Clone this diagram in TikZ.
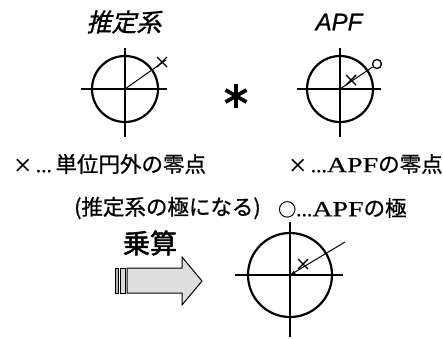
\documentclass[tikz,border=0pt]{standalone}
\usepackage{fontspec}
\usepackage{graphicx}
\newfontfamily\jp[FakeBold=0.8]{Noto Sans CJK JP}
\newfontfamily\jpsl[FakeSlant=0.22,FakeBold=1]{Noto Sans CJK JP}
\newfontfamily\jpb[FakeBold=1.8]{Noto Sans CJK JP}
\newfontfamily\lsans[ItalicFeatures={FakeBold=0.7}]{Liberation Sans}
\newfontfamily\lserif[FakeBold=0.6]{Liberation Serif}
\usetikzlibrary{arrows.meta}
\tikzset{
  circ/.style={line width=2.2pt},
  axis/.style={line width=2.2pt},
  ray/.style={line width=1pt},
  txt/.style={inner sep=0pt, anchor=west, font=\jp\fontsize{21.5}{24}\selectfont},
  xm/.pic={\draw[line width=1.4pt] (-5,-5)--(5,5) (-5,5)--(5,-5);}
}
\begin{document}
\begin{tikzpicture}[x=1pt,y=-1pt]
\useasboundingbox (0,0) rectangle (443,338);
% titles
\node[inner sep=0pt] (title1) at (124,22) {\jpsl\fontsize{25}{30}\selectfont 推定系};
\node[inner sep=0pt] (title2) at (339,22) {\lsans\itshape\fontsize{24}{28}\selectfont APF};
% left plane
\coordinate (c1) at (125,89);
\draw[circ] (c1) circle (33);
\draw[axis] (81,89) -- (167,89);
\draw[axis] (125,48) -- (125,137);
\coordinate (e1) at (166,60);
\draw[ray] (c1) -- (e1);
\pic at (162,62) {xm};
% asterisk
\coordinate (ast) at (236,96);
\draw[line width=3.8pt] (236,84) -- (236,108);
\draw[line width=3.8pt] (246.4,90) -- (225.6,102);
\draw[line width=3.8pt] (246.4,102) -- (225.6,90);
% right plane
\coordinate (c2) at (340,89);
\draw[circ] (c2) circle (33);
\draw[axis] (297,89) -- (381,89);
\draw[axis] (340,48) -- (340,137);
\node[circle, draw, line width=1.3pt, minimum size=9pt, inner sep=0pt] (pole) at (377,64) {};
\draw[ray] (c2) -- (pole);
\pic at (351,80) {xm};
% texts
\node[txt] (t1) at (13,164) {{\fontsize{19}{20}\selectfont ×}\,{\lserif ...}\,単位円外の零点};
\node[txt] (t2) at (288,164) {{\fontsize{19}{20}\selectfont ×}\,{\lserif ...}\scalebox{1.3}[1]{\lserif APF}の零点};
\node[txt] (t3) at (74,208) {(推定系の極になる)};
\node[txt] (t4) at (278,208) {{\fontsize{18}{20}\selectfont ○}{\lserif ...}\scalebox{1.3}[1]{\lserif APF}の極};
\node[inner sep=0pt] (mul) at (150,243) {\jpb\fontsize{27}{30}\selectfont 乗算};
% block arrow
\draw[line width=1pt, fill=gray!60] (115,268) rectangle (118,293);
\draw[line width=1pt, fill=gray!30] (120,268) rectangle (125,293);
\draw[line width=1pt, fill=gray!25] (127,268) -- (182,268) -- (182,257) -- (202,281)
  -- (182,305) -- (182,293) -- (127,293) -- cycle;
% bottom plane
\coordinate (c3) at (290,275);
\draw[circ] (c3) circle (42);
\draw[axis] (235,275) -- (343,275);
\draw[axis] (290,222) -- (290,337);
\coordinate (e3) at (345,242);
\draw[ray, -{Stealth[length=6pt,width=3.5pt]}] (e3) -- (c3);
\pic at (303,264) {xm};
\end{tikzpicture}
\end{document}
